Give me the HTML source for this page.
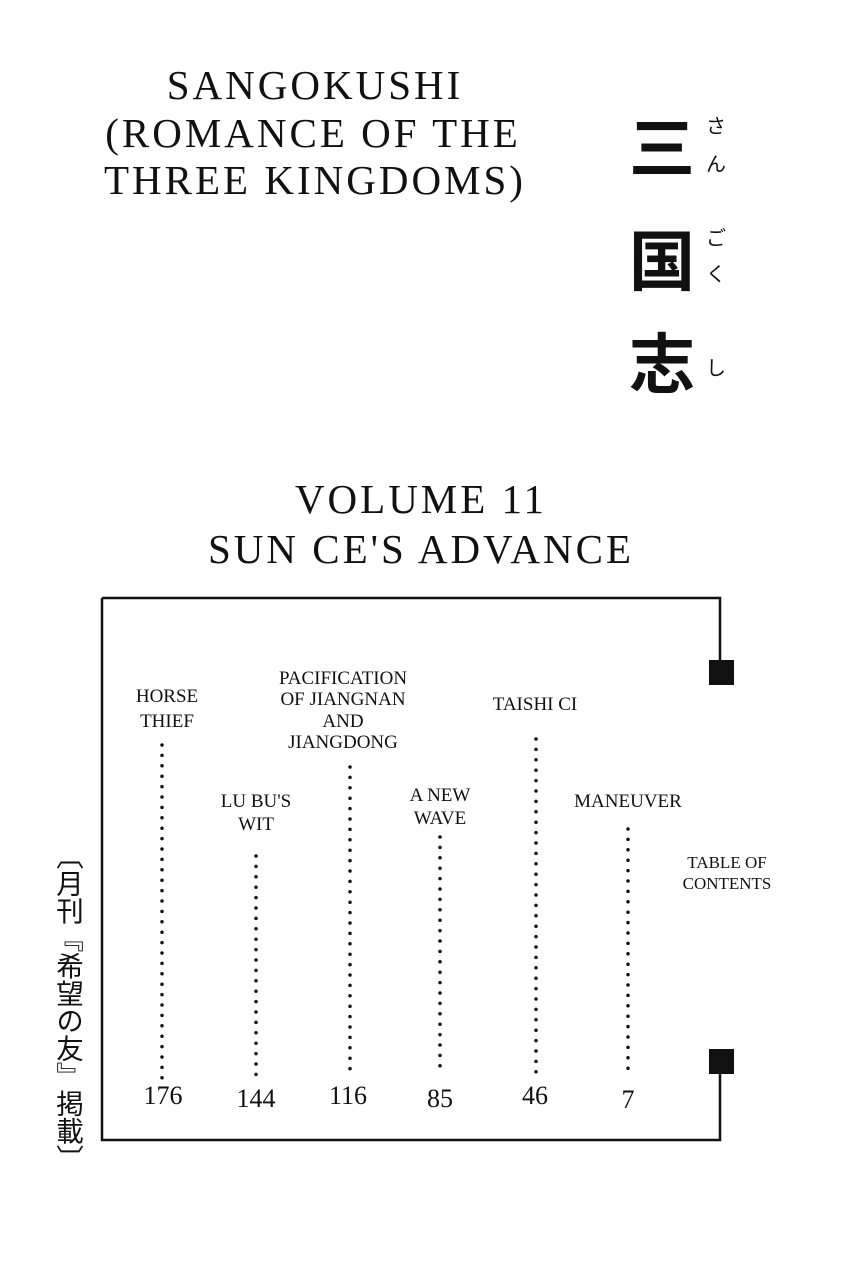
<!DOCTYPE html>
<html><head><meta charset="utf-8"><style>
html,body{margin:0;padding:0;background:#fff;}
body{width:848px;height:1280px;position:relative;overflow:hidden;}
.vt{position:absolute;left:55px;top:842px;writing-mode:vertical-rl;font-family:"Noto Sans CJK JP",sans-serif;font-size:27.5px;line-height:30px;color:#111;}
</style></head><body>
<svg width="848" height="1280" xmlns="http://www.w3.org/2000/svg" style="position:absolute;left:0;top:0">
<g font-family="Liberation Serif, serif" fill="#111" text-anchor="middle">
<text x="315" y="99" font-size="41" letter-spacing="3">SANGOKUSHI</text>
<text x="313" y="147" font-size="41" letter-spacing="3">(ROMANCE OF THE</text>
<text x="315" y="194" font-size="41" letter-spacing="3">THREE KINGDOMS)</text>
<text x="421" y="513" font-size="41" letter-spacing="3">VOLUME 11</text>
<text x="421" y="563" font-size="41" letter-spacing="3">SUN CE'S ADVANCE</text>
<g font-size="19">
<text x="167" y="702">HORSE</text><text x="167" y="727">THIEF</text>
<text x="343" y="684">PACIFICATION</text><text x="343" y="705">OF JIANGNAN</text><text x="343" y="727">AND</text><text x="343" y="748">JIANGDONG</text>
<text x="535" y="710">TAISHI CI</text>
<text x="256" y="807">LU BU'S</text><text x="256" y="830">WIT</text>
<text x="440" y="801">A NEW</text><text x="440" y="824">WAVE</text>
<text x="628" y="807">MANEUVER</text>
<text x="727" y="868" font-size="17">TABLE OF</text><text x="727" y="889" font-size="17">CONTENTS</text>
</g>
<g font-size="26">
<text x="163" y="1104">176</text><text x="256" y="1107">144</text><text x="348" y="1104">116</text>
<text x="440" y="1107">85</text><text x="535" y="1104">46</text><text x="628" y="1108">7</text>
</g>
</g>
<g font-family="Noto Sans CJK JP, sans-serif" fill="#111" text-anchor="middle">
<text x="662" y="172" font-size="66" font-weight="bold">三</text>
<text x="662" y="285" font-size="66" font-weight="bold">国</text>
<text x="662" y="388" font-size="66" font-weight="bold">志</text>
<text x="716" y="133" font-size="20">さ</text><text x="716" y="171" font-size="20">ん</text>
<text x="716" y="245" font-size="20">ご</text><text x="716" y="281" font-size="20">く</text>
<text x="716" y="375" font-size="20">し</text>
</g>
<g stroke="#111" stroke-width="2.5" fill="none">
<path d="M102 598 H720 V662 M102 598 V1140 H720 V1072"/>
</g>
<rect x="709" y="660" width="25" height="25" fill="#111"/>
<rect x="709" y="1049" width="25" height="25" fill="#111"/>
<g stroke="#111" stroke-width="3.5" stroke-dasharray="0 10.4" stroke-linecap="round">
<line x1="162" y1="745" x2="162" y2="1078"/>
<line x1="256" y1="856" x2="256" y2="1076"/>
<line x1="350" y1="767" x2="350" y2="1076"/>
<line x1="440" y1="837" x2="440" y2="1076"/>
<line x1="536" y1="739" x2="536" y2="1076"/>
<line x1="628" y1="829" x2="628" y2="1076"/>
</g>
</svg>
<div class="vt">〔月刊『希望の友』掲載〕</div>
</body></html>
